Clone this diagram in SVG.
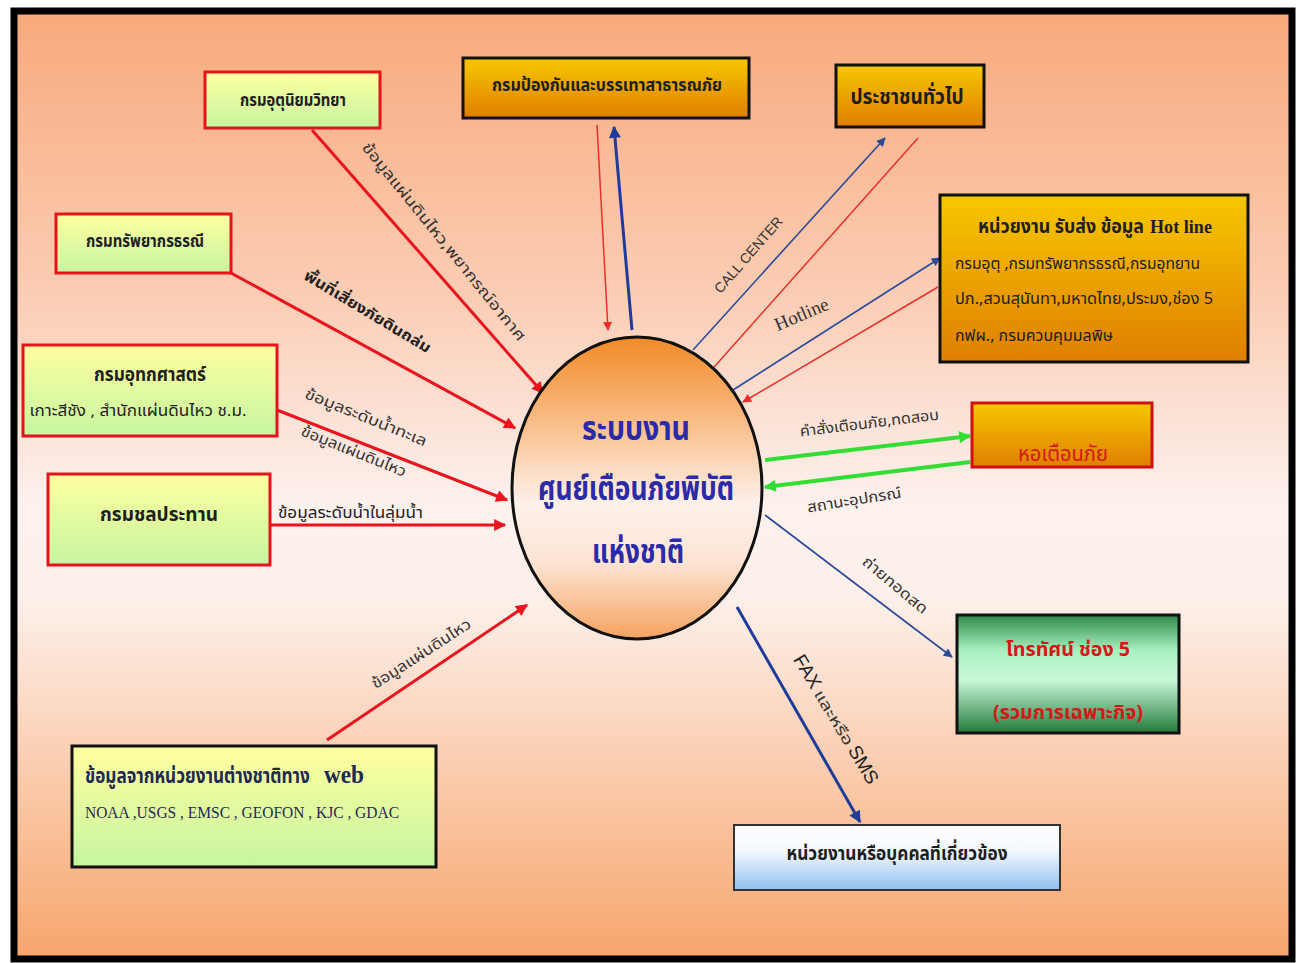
<svg xmlns="http://www.w3.org/2000/svg" width="1312" height="963" viewBox="0 0 1312 963">
<defs>
<linearGradient id="bg" x1="0" y1="0" x2="0" y2="1">
<stop offset="0" stop-color="#f8a97c"/>
<stop offset="0.3" stop-color="#fbcdb4"/>
<stop offset="0.52" stop-color="#fdf1ee"/>
<stop offset="0.62" stop-color="#fdf0ea"/>
<stop offset="1" stop-color="#f7a56c"/>
</linearGradient>
<linearGradient id="ell" x1="0" y1="0" x2="0" y2="1">
<stop offset="0" stop-color="#f28a26"/>
<stop offset="0.25" stop-color="#f8b77c"/>
<stop offset="0.55" stop-color="#fdf0ea"/>
<stop offset="0.75" stop-color="#fde4d4"/>
<stop offset="1" stop-color="#f6a25e"/>
</linearGradient>
<linearGradient id="yg" x1="0" y1="0" x2="0" y2="1">
<stop offset="0" stop-color="#ffffa0"/>
<stop offset="1" stop-color="#c6f5a0"/>
</linearGradient>
<linearGradient id="gold" x1="0" y1="0" x2="0" y2="1">
<stop offset="0" stop-color="#f7c800"/>
<stop offset="1" stop-color="#df7e00"/>
</linearGradient>
<linearGradient id="tv" x1="0" y1="0" x2="0" y2="1">
<stop offset="0" stop-color="#2f8a4a"/>
<stop offset="0.3" stop-color="#a8f0c0"/>
<stop offset="0.55" stop-color="#c8f8d8"/>
<stop offset="1" stop-color="#247a3c"/>
</linearGradient>
<linearGradient id="wb" x1="0" y1="0" x2="0" y2="1">
<stop offset="0" stop-color="#ffffff"/>
<stop offset="0.4" stop-color="#f4f8ff"/>
<stop offset="1" stop-color="#8ec0f0"/>
</linearGradient>
<marker id="ar" viewBox="0 0 10 10" refX="9" refY="5" markerWidth="14" markerHeight="12" markerUnits="userSpaceOnUse" orient="auto"><path d="M0,0 L10,5 L0,10 z" fill="#e8141e"/></marker>
<marker id="ar2" viewBox="0 0 10 10" refX="9" refY="5" markerWidth="11" markerHeight="9" markerUnits="userSpaceOnUse" orient="auto"><path d="M0,0 L10,5 L0,10 z" fill="#e8302a"/></marker>
<marker id="ab" viewBox="0 0 10 10" refX="9" refY="5" markerWidth="14" markerHeight="12" markerUnits="userSpaceOnUse" orient="auto"><path d="M0,0 L10,5 L0,10 z" fill="#1f3c9a"/></marker>
<marker id="ab2" viewBox="0 0 10 10" refX="9" refY="5" markerWidth="11" markerHeight="9" markerUnits="userSpaceOnUse" orient="auto"><path d="M0,0 L10,5 L0,10 z" fill="#2b4a9a"/></marker>
<marker id="ag" viewBox="0 0 10 10" refX="9" refY="5" markerWidth="14" markerHeight="12" markerUnits="userSpaceOnUse" orient="auto"><path d="M0,0 L10,5 L0,10 z" fill="#33dd33"/></marker>
</defs>
<style>
.th{font-family:'Noto Sans Thai','Noto Sans','DejaVu Sans',sans-serif;font-weight:bold;fill:#1e1e1e}
.lb{font-family:'Noto Sans Thai','Noto Sans','DejaVu Sans',sans-serif;fill:#333;font-size:15px}
.sf{font-family:'Liberation Serif',serif;font-weight:bold}
.yg{fill:url(#yg);stroke:#e3141c;stroke-width:3}
.go{fill:url(#gold);stroke:#111;stroke-width:3}
.rl{stroke:#e8141e;stroke-width:3;fill:none;marker-end:url(#ar)}
.rt{stroke:#e8302a;stroke-width:1.5;fill:none;marker-end:url(#ar2)}
.bl{stroke:#1f3c9a;stroke-width:3;fill:none;marker-end:url(#ab)}
.bt{stroke:#2b4a9a;stroke-width:1.6;fill:none;marker-end:url(#ab2)}
.gl{stroke:#33dd33;stroke-width:4;fill:none;marker-end:url(#ag)}
</style>
<rect width="1312" height="963" fill="#ffffff"/>
<rect x="14" y="11" width="1278" height="948" fill="url(#bg)" stroke="#000" stroke-width="7"/>

<g id="connectors">
<path class="rl" d="M312,130 L543,393"/>
<path class="rl" d="M231,273 L515,428"/>
<path class="rl" d="M277,410 L507,500"/>
<path class="rl" d="M270,525 L505,525"/>
<path class="rl" d="M327,740 L527,605"/>
<path class="rt" d="M597,125 L608,330"/>
<path class="bl" d="M632,330 L614,127"/>
<path class="bt" d="M693,350 L885,138"/>
<path class="rt" d="M918,138 L707,375"/>
<path class="bt" d="M733,390 L940,258"/>
<path class="rt" d="M938,287 L743,402"/>
<path class="gl" d="M765,460 L970,436"/>
<path class="gl" d="M970,462 L765,487"/>
<path class="bt" d="M765,515 L952,657"/>
<path class="bl" d="M737,607 L860,822"/>
<text class="lb" transform="translate(440,245) rotate(51)" text-anchor="middle" textLength="250" lengthAdjust="spacingAndGlyphs">ข้อมูลแผ่นดินไหว,พยากรณ์อากาศ</text>
<text class="lb" transform="translate(365,316) rotate(31)" text-anchor="middle" textLength="145" lengthAdjust="spacingAndGlyphs" style="font-weight:bold;fill:#222">พื้นที่เสี่ยงภัยดินถล่ม</text>
<text class="lb" transform="translate(364,422) rotate(22)" text-anchor="middle" textLength="130" lengthAdjust="spacingAndGlyphs">ข้อมูลระดับน้ำทะเล</text>
<text class="lb" transform="translate(352,456) rotate(22)" text-anchor="middle" textLength="112" lengthAdjust="spacingAndGlyphs">ข้อมูลแผ่นดินไหว</text>
<text class="lb" x="278" y="518" textLength="145" lengthAdjust="spacingAndGlyphs" style="fill:#222">ข้อมูลระดับน้ำในลุ่มน้ำ</text>
<text class="lb" transform="translate(424,658) rotate(-33)" text-anchor="middle" textLength="115" lengthAdjust="spacingAndGlyphs">ข้อมูลแผ่นดินไหว</text>
<text transform="translate(752,258) rotate(-49)" text-anchor="middle" font-family="'Liberation Sans',sans-serif" font-size="14" fill="#333">CALL CENTER</text>
<text transform="translate(804,320) rotate(-23)" text-anchor="middle" font-family="'Liberation Serif',serif" font-size="19" fill="#333">Hotline</text>
<text class="lb" transform="translate(870,428) rotate(-7)" text-anchor="middle" textLength="140" lengthAdjust="spacingAndGlyphs">คำสั่งเตือนภัย,ทดสอบ</text>
<text class="lb" transform="translate(855,505) rotate(-9)" text-anchor="middle" textLength="95" lengthAdjust="spacingAndGlyphs">สถานะอุปกรณ์</text>
<text class="lb" transform="translate(892,589) rotate(40)" text-anchor="middle" textLength="80" lengthAdjust="spacingAndGlyphs">ถ่ายทอดสด</text>
<g transform="translate(834,728) rotate(59)">
<text x="-80" y="0" font-family="'Liberation Sans',sans-serif" font-size="19" fill="#222">FAX</text>
<text class="lb" x="-40" y="0" textLength="62" lengthAdjust="spacingAndGlyphs">และหรือ</text>
<text x="26" y="0" font-family="'Liberation Sans',sans-serif" font-size="19" fill="#222">SMS</text>
</g>
</g>

<g id="center">
<ellipse cx="637" cy="488" rx="125" ry="151" fill="url(#ell)" stroke="#111" stroke-width="3"/>
<text class="th" x="636" y="440" text-anchor="middle" font-size="34" style="fill:#2b2ba8" textLength="108" lengthAdjust="spacingAndGlyphs">ระบบงาน</text>
<text class="th" x="636" y="500" text-anchor="middle" font-size="34" style="fill:#2b2ba8" textLength="196" lengthAdjust="spacingAndGlyphs">ศูนย์เตือนภัยพิบัติ</text>
<text class="th" x="638" y="563" text-anchor="middle" font-size="34" style="fill:#2b2ba8" textLength="92" lengthAdjust="spacingAndGlyphs">แห่งชาติ</text>
</g>

<g id="tmd">
<rect class="yg" x="205" y="72" width="175" height="56"/>
<text class="th" x="293" y="106" text-anchor="middle" font-size="18" textLength="106" lengthAdjust="spacingAndGlyphs">กรมอุตุนิยมวิทยา</text>
</g>
<g id="ddpm">
<rect class="go" x="463" y="58" width="286" height="60"/>
<text class="th" x="607" y="91" text-anchor="middle" font-size="18" textLength="230" lengthAdjust="spacingAndGlyphs">กรมป้องกันและบรรเทาสาธารณภัย</text>
</g>
<g id="public">
<rect class="go" x="836" y="65" width="148" height="62"/>
<text class="th" x="907" y="104" text-anchor="middle" font-size="22" textLength="113" lengthAdjust="spacingAndGlyphs">ประชาชนทั่วไป</text>
</g>
<g id="hotline">
<rect class="go" x="940" y="195" width="308" height="167"/>
<text class="th" x="978" y="233" font-size="19" textLength="166" lengthAdjust="spacingAndGlyphs">หน่วยงาน รับส่ง ข้อมูล</text>
<text class="sf" x="1150" y="233" font-size="19" fill="#1e1e1e" textLength="62" lengthAdjust="spacingAndGlyphs">Hot line</text>
<text class="th" x="955" y="269" font-size="16" style="font-weight:normal" textLength="245" lengthAdjust="spacingAndGlyphs">กรมอุตุ ,กรมทรัพยากรธรณี,กรมอุทยาน</text>
<text class="th" x="955" y="304" font-size="16" style="font-weight:normal" textLength="258" lengthAdjust="spacingAndGlyphs">ปภ.,สวนสุนันทา,มหาดไทย,ประมง,ช่อง 5</text>
<text class="th" x="955" y="341" font-size="16" style="font-weight:normal" textLength="158" lengthAdjust="spacingAndGlyphs">กฟผ., กรมควบคุมมลพิษ</text>
</g>
<g id="dmr">
<rect class="yg" x="56" y="214" width="175" height="59"/>
<text class="th" x="145" y="247" text-anchor="middle" font-size="18" textLength="118" lengthAdjust="spacingAndGlyphs">กรมทรัพยากรธรณี</text>
</g>
<g id="hydro">
<rect class="yg" x="23" y="345" width="254" height="91"/>
<text class="th" x="150" y="381" text-anchor="middle" font-size="19" textLength="112" lengthAdjust="spacingAndGlyphs">กรมอุทกศาสตร์</text>
<text class="th" x="138" y="416" text-anchor="middle" font-size="15" style="font-weight:normal" textLength="217" lengthAdjust="spacingAndGlyphs">เกาะสีชัง , สำนักแผ่นดินไหว ช.ม.</text>
</g>
<g id="rid">
<rect class="yg" x="48" y="474" width="222" height="91"/>
<text class="th" x="159" y="521" text-anchor="middle" font-size="20" textLength="118" lengthAdjust="spacingAndGlyphs">กรมชลประทาน</text>
</g>
<g id="web">
<rect x="72" y="746" width="364" height="121" fill="url(#yg)" stroke="#111" stroke-width="3"/>
<text class="th" transform="translate(85,783) scale(0.78,1)" font-size="22" style="fill:#1e2a50">ข้อมูลจากหน่วยงานต่างชาติทาง</text>
<text class="sf" x="324" y="783" font-size="26" fill="#1e2a50" textLength="40" lengthAdjust="spacingAndGlyphs">web</text>
<text x="85" y="818" font-family="'Liberation Serif',serif" font-size="16" fill="#1e2a50" textLength="314" lengthAdjust="spacingAndGlyphs">NOAA ,USGS , EMSC , GEOFON , KJC , GDAC</text>
</g>
<g id="siren">
<rect x="972" y="403" width="180" height="64" fill="url(#gold)" stroke="#d01010" stroke-width="3"/>
<text class="th" x="1063" y="461" text-anchor="middle" font-size="22" style="fill:#d41818;font-weight:normal" textLength="90" lengthAdjust="spacingAndGlyphs">หอเตือนภัย</text>
</g>
<g id="tv5">
<rect x="957" y="615" width="222" height="118" fill="url(#tv)" stroke="#111" stroke-width="3"/>
<text class="th" x="1068" y="656" text-anchor="middle" font-size="20" style="fill:#d41818" textLength="124" lengthAdjust="spacingAndGlyphs">โทรทัศน์ ช่อง 5</text>
<text class="th" x="1068" y="719" text-anchor="middle" font-size="20" style="fill:#d41818" textLength="150" lengthAdjust="spacingAndGlyphs">(รวมการเฉพาะกิจ)</text>
</g>
<g id="related">
<rect x="734" y="825" width="326" height="65" fill="url(#wb)" stroke="#333" stroke-width="2"/>
<text class="th" x="897" y="860" text-anchor="middle" font-size="20" textLength="221" lengthAdjust="spacingAndGlyphs">หน่วยงานหรือบุคคลที่เกี่ยวข้อง</text>
</g>
</svg>
